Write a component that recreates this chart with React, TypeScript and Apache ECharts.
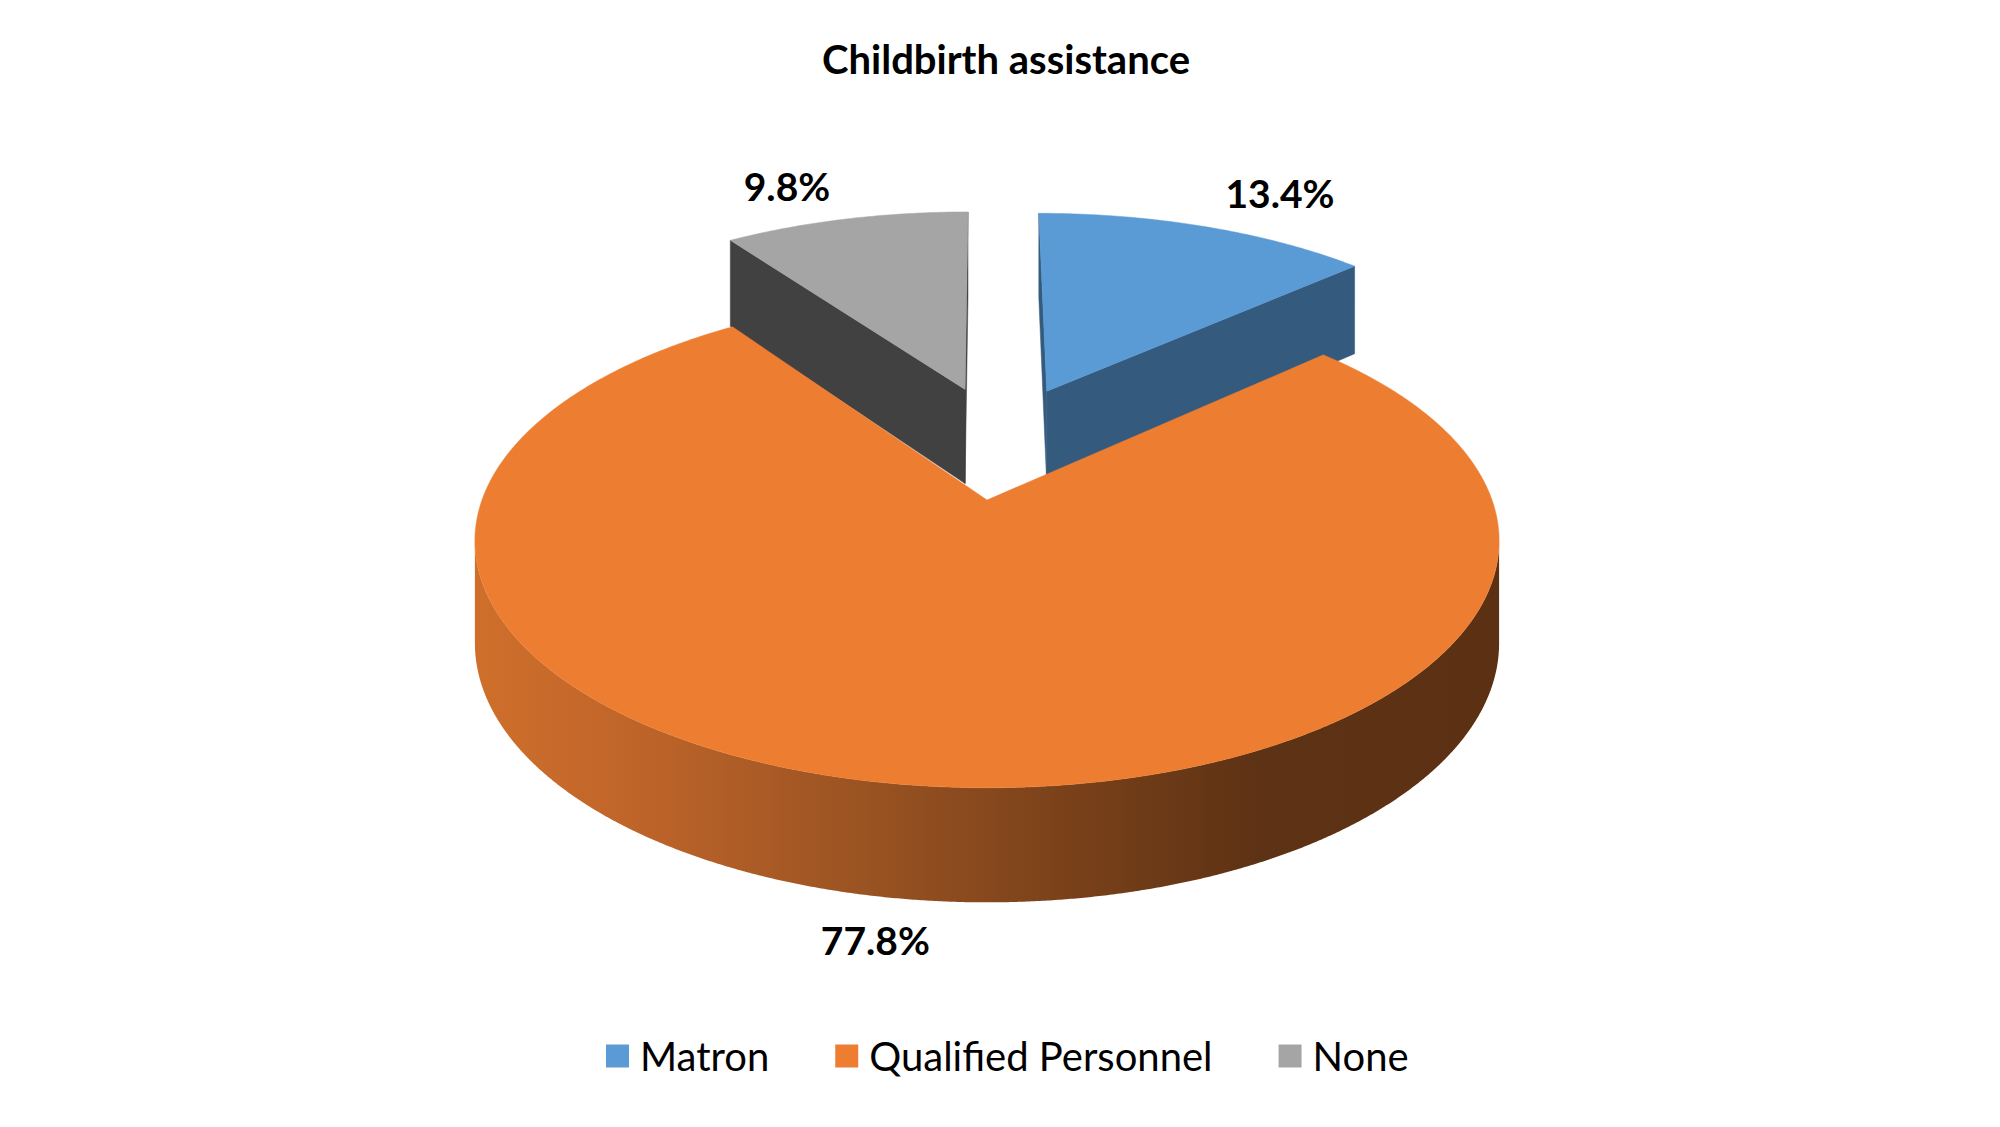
import React, { useEffect, useRef } from "react";
import * as echarts from "echarts";

const TITLE = "Childbirth assistance";
const CATEGORIES = ["Matron", "Qualified Personnel", "None"];
const VALUES = [13.4, 77.8, 9.8];

// styling
const TOP_COLORS = ["#5B9BD5", "#ED7D31", "#A5A5A5"];
const FACE_COLORS = ["#345A7E", "#A85A24", "#414141"];
const WALL_STOPS: (string[] | null)[] = [null, ["#CF6F2B", "#C0652A", "#9A5322", "#7B421A", "#5E3214", "#5C3013"], null];
const WALL_OFFSETS = [0, 0.15, 0.38, 0.57, 0.76, 1];
const EXPLODE = [
  [0.128, 0.49],
  [0, 0],
  [-0.047, 0.499],
];
const LABEL_ANGLE_NUDGE = [4.4, 2.9, -3.9];
const LABEL_RADIUS = [1.284, 1.116, 1.26];
const LABEL_LEVEL = [0, -1, 0];
const Z_ORDER = [1, 2, 1];
const FONT = "Lato, 'Open Sans', sans-serif";

export default function App() {
  const ref = useRef<HTMLDivElement>(null);
  useEffect(() => {
    document.body.style.margin = "0";
    const chart = echarts.init(ref.current!, null, { renderer: "svg" });
    const total = VALUES.reduce((a, b) => a + b, 0);
    const starts: number[] = [];
    let acc = 0;
    VALUES.forEach((v) => {
      starts.push((acc / total) * 360);
      acc += v;
    });
    const rad = (d: number) => (d * Math.PI) / 180;

    const makeRender = (i: number) => (params: any, api: any) => {
      const W = api.getWidth();
      const Hh = api.getHeight();
      const sx = W / 2000;
      const sy = Hh / 1127;
      const cx = 987 * sx;
      const cy = 500 * sy;
      const A = 505 * sx;
      const B = 240 * sy;
      const Hd = 100 * sy;
      const k = 0.166;
      const D = 1 / k;
      const proj = (X: number, Z: number, Y: number) => {
        const s = 1 / (1 + k * Z);
        return [cx + A * X * s, cy - B * Z * s - Hd * Y * Math.pow(s, 0.75)];
      };
      const v = api.value(0);
      const a0 = starts[i];
      const a1 = a0 + (v / total) * 360;
      const ex = EXPLODE[i][0];
      const ez = EXPLODE[i][1];
      const rim = (t: number, Y: number) => proj(ex + Math.sin(rad(t)), ez + Math.cos(rad(t)), Y);
      const children: any[] = [];

      // radial cut faces
      const faces = [
        { phi: a0, n: [-Math.cos(rad(a0)), Math.sin(rad(a0))] },
        { phi: a1, n: [Math.cos(rad(a1)), -Math.sin(rad(a1))] },
      ];
      faces.forEach((f) => {
        const px = ex + 0.5 * Math.sin(rad(f.phi));
        const pz = ez + 0.5 * Math.cos(rad(f.phi));
        const dot = f.n[0] * (0 - px) + f.n[1] * (-D - pz);
        if (dot > 0) {
          children.push({
            type: "polygon",
            shape: { points: [proj(ex, ez, 0), rim(f.phi, 0), rim(f.phi, -1), proj(ex, ez, -1)] },
            style: { fill: FACE_COLORS[i], stroke: FACE_COLORS[i], lineWidth: 0.5 },
          });
        }
      });

      // outer wall (front-facing part)
      const visible = (t: number) => -ex * Math.sin(rad(t)) - (D + ez) * Math.cos(rad(t)) - 1 > 0;
      const runs: number[][] = [];
      let cur: number[] | null = null;
      const step = 0.25;
      for (let t = a0; t <= a1 + 1e-9; t += step) {
        const tt = Math.min(t, a1);
        if (visible(tt)) {
          if (!cur) {
            cur = [];
            runs.push(cur);
          }
          cur.push(tt);
        } else {
          cur = null;
        }
      }
      const stops = WALL_STOPS[i];
      const wallFill = stops
        ? new echarts.graphic.LinearGradient(
            cx - A * 1.02,
            0,
            cx + A * 1.02,
            0,
            stops.map((c, j) => ({ offset: WALL_OFFSETS[j], color: c })),
            true
          )
        : FACE_COLORS[i];
      runs.forEach((r) => {
        if (r.length < 2) return;
        const pts = r.map((t) => rim(t, 0)).concat(r.slice().reverse().map((t) => rim(t, -1)));
        children.push({ type: "polygon", shape: { points: pts }, style: { fill: wallFill } });
      });

      // top face
      const topPts: number[][] = [proj(ex, ez, 0)];
      for (let t = a0; t < a1; t += 0.5) topPts.push(rim(t, 0));
      topPts.push(rim(a1, 0));
      children.push({
        type: "polygon",
        shape: { points: topPts },
        style: { fill: TOP_COLORS[i], stroke: TOP_COLORS[i], lineWidth: 0.5 },
      });

      // label
      const la = (a0 + a1) / 2 + LABEL_ANGLE_NUDGE[i];
      const lr = LABEL_RADIUS[i];
      const lp = proj(ex + lr * Math.sin(rad(la)), ez + lr * Math.cos(rad(la)), LABEL_LEVEL[i]);
      children.push({
        type: "text",
        x: lp[0],
        y: lp[1],
        style: {
          text: v.toFixed(1) + "%",
          fontSize: 39 * sx,
          fontWeight: "bold",
          fontFamily: FONT,
          fill: "#000",
          align: "center",
          verticalAlign: "middle",
        },
      });
      return { type: "group", children };
    };

    chart.setOption({
      animation: false,
      backgroundColor: "#fff",
      title: {
        text: TITLE,
        left: 1006,
        textAlign: "center",
        top: 39,
        padding: 0,
        textStyle: { fontSize: 40, fontWeight: "bold", fontFamily: FONT, color: "#000" },
      },
      legend: {
        data: CATEGORIES,
        left: 606,
        top: 1036,
        icon: "rect",
        itemWidth: 23,
        itemHeight: 23,
        itemGap: 66,
        padding: 0,
        textStyle: { fontSize: 40, fontFamily: FONT, color: "#000", padding: [0, 0, 0, 6] },
      },
      series: CATEGORIES.map((name, i) => ({
        type: "custom",
        name,
        coordinateSystem: "none",
        z: Z_ORDER[i],
        silent: true,
        itemStyle: { color: TOP_COLORS[i] },
        data: [[VALUES[i]]],
        renderItem: makeRender(i),
      })),
    });
    return () => chart.dispose();
  }, []);
  return <div ref={ref} style={{ width: 2000, height: 1127 }} />;
}
